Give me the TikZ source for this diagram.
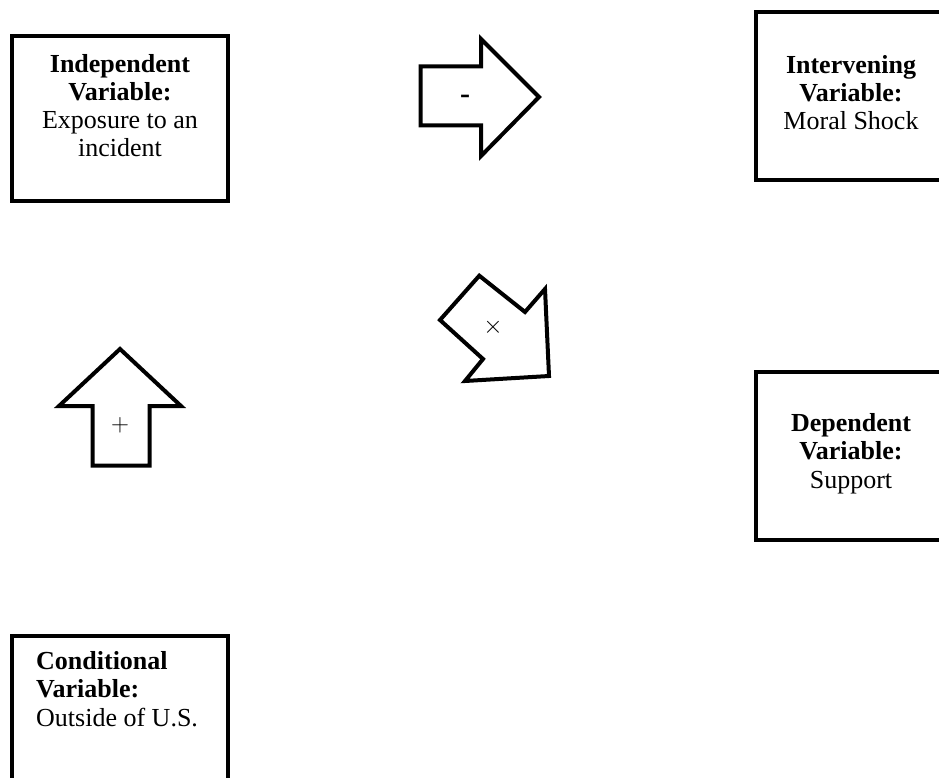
\documentclass[tikz,border=0pt]{standalone}
\usepackage{fontspec}
\setmainfont{Liberation Serif}
\begin{document}
\begin{tikzpicture}[x=1pt,y=-1pt,
  box/.style={draw=black,line width=4.5pt,fill=white,inner sep=0pt},
  blk/.style={draw=black,line width=4pt,fill=white,line join=miter},
  txt/.style={inner sep=0pt,font=\fontsize{26}{28.3}\selectfont},
  sym/.style={inner sep=0pt,font=\fontsize{25}{28.5}\selectfont}]
\useasboundingbox (0,0) rectangle (939,778);
\clip (0,0) rectangle (939,778);
% boxes
\node[box,minimum width=216pt,minimum height=165pt] (indep) at (120,118.5) {};
\node[box,minimum width=190pt,minimum height=168pt] (interv) at (851,96) {};
\node[box,minimum width=190pt,minimum height=168pt] (dep) at (851,456) {};
\node[box,minimum width=216pt,minimum height=168pt] (cond) at (120,720) {};
% texts (anchor = baseline of the last line)
\node[txt,align=center,anchor=base] (indept) at (120,157) {\textbf{Independent}\\\textbf{Variable:}\\Exposure to an\\incident};
\node[txt,align=center,anchor=base] (intervt) at (851,130) {\textbf{Intervening}\\\textbf{Variable:}\\Moral Shock};
\node[txt,align=center,anchor=base] (dept) at (851,488) {\textbf{Dependent}\\\textbf{Variable:}\\Support};
\node[txt,align=left,anchor=base west] (condt) at (36,726) {\textbf{Conditional}\\\textbf{Variable:}\\Outside of U.S.};
% block arrows
\draw[blk] (420.5,66.5) -- (481,66.5) -- (481,39) -- (539,97) -- (481,156) -- (481,125.5) -- (420.5,125.5) -- cycle;
\node[sym,font=\fontsize{30}{32}\selectfont] (minus) at (465,99) {\textbf{-}};
\draw[blk] (120,349) -- (181,406) -- (149.5,406) -- (149.5,465.5) -- (92.5,465.5) -- (92.5,406) -- (59,406) -- cycle;
\node[sym] (plus) at (120,425) {$+$};
\draw[blk] (479.3,275.7) -- (525,312) -- (545,289) -- (549,376) -- (465,381) -- (483,359) -- (440,320) -- cycle;
\node[sym] (times) at (493,327) {$\times$};
\end{tikzpicture}
\end{document}
